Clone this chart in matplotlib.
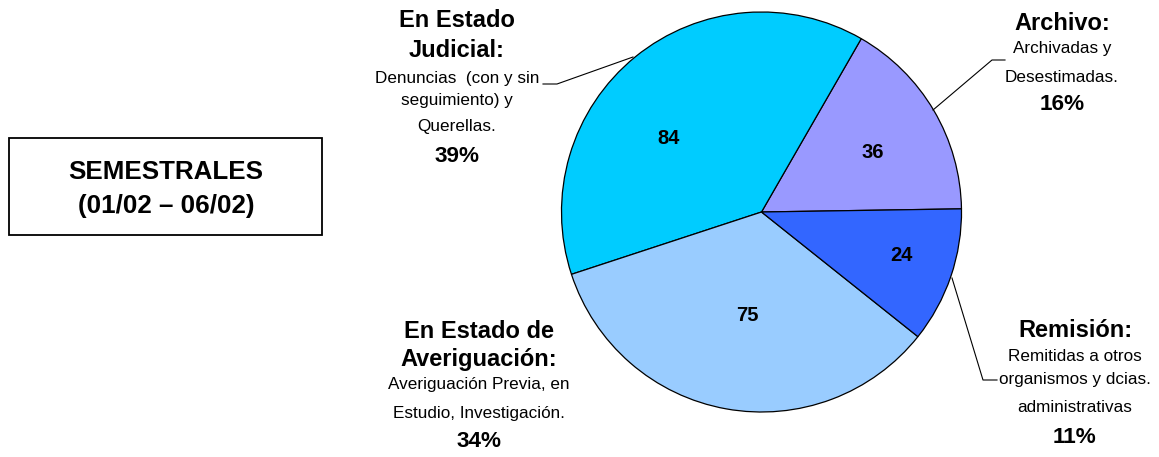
import matplotlib
matplotlib.use("Agg")
import matplotlib.pyplot as plt

plt.rcParams['font.family'] = ['Liberation Sans', 'DejaVu Sans']

# data (counter-clockwise from the right)
cats = ['Archivo', 'En Estado Judicial', 'En Estado de Averiguación', 'Remisión']
vals = [36, 84, 75, 24]
pcts = ['16%', '39%', '34%', '11%']
colors = ['#9999FF', '#00CCFF', '#99CCFF', '#3366FF']

W, H = 1159, 457
fig = plt.figure(figsize=(W / 100, H / 100), dpi=100)
ax = fig.add_axes([0, 0, 1, 1])

def py(y):
    # pixel row -> data y
    return H - y

cx, cy, r = 761.5, py(212), 200
wedges, _ = ax.pie(vals, colors=colors, startangle=0.9, counterclock=True,
                   center=(cx, cy), radius=r, frame=True,
                   wedgeprops=dict(edgecolor='black', linewidth=0.9))
ax.set_xlim(0, W)
ax.set_ylim(0, H)
ax.set_aspect('equal')
ax.axis('off')

# numbers inside slices
num_pos = [(873, 158), (668.5, 144), (747, 321), (901, 261)]
for v, (x, y) in zip(vals, num_pos):
    ax.text(x, py(y), str(v), ha='center', va='baseline', fontsize=14.5, fontweight='bold')

def block(x, lines):
    for txt, y, kind in lines:
        size = {'h': 17, 's': 12.3, 'p': 16.2}[kind]
        ax.text(x, py(y), txt, ha='center', va='baseline', fontsize=size,
                fontweight='normal' if kind == 's' else 'bold')

block(457, [('En Estado', 27, 'h'), ('Judicial:', 57, 'h'),
            ('Denuncias  (con y sin', 83, 's'), ('seguimiento) y', 105, 's'),
            ('Querellas.', 131, 's'), (pcts[1], 162, 'p')])
block(1062, [('Archivo:', 30, 'h'), ('Archivadas y', 53, 's'),
             ('Desestimadas.', 82, 's'), (pcts[0], 110, 'p')])
block(1075, [('Remisión:', 337, 'h'), ('Remitidas a otros', 361, 's'),
             ('organismos y dcias.', 384, 's'), ('administrativas', 412, 's'),
             (pcts[3], 443, 'p')])
block(479, [('En Estado de', 338, 'h'), ('Averiguación:', 366, 'h'),
            ('Averiguación Previa, en', 389, 's'), ('Estudio, Investigación.', 418, 's'),
            (pcts[2], 447, 'p')])

# leader lines
ax.plot([633, 557, 543], [py(57), py(84), py(84)], color='black', lw=0.8)
ax.plot([933, 992, 1005], [py(110), py(60), py(60)], color='black', lw=0.8)
ax.plot([952, 983, 997], [py(278), py(380), py(380)], color='black', lw=0.8)

# title box
ax.add_patch(plt.Rectangle((9, py(235)), 313, 97, fill=False, edgecolor='black', lw=1.3))
ax.text(166, py(179), 'SEMESTRALES', ha='center', va='baseline', fontsize=18.7,
        fontweight='bold')
ax.text(166, py(213), '(01/02 – 06/02)', ha='center', va='baseline', fontsize=18.7,
        fontweight='bold')

fig.savefig('out.png', dpi=100)
